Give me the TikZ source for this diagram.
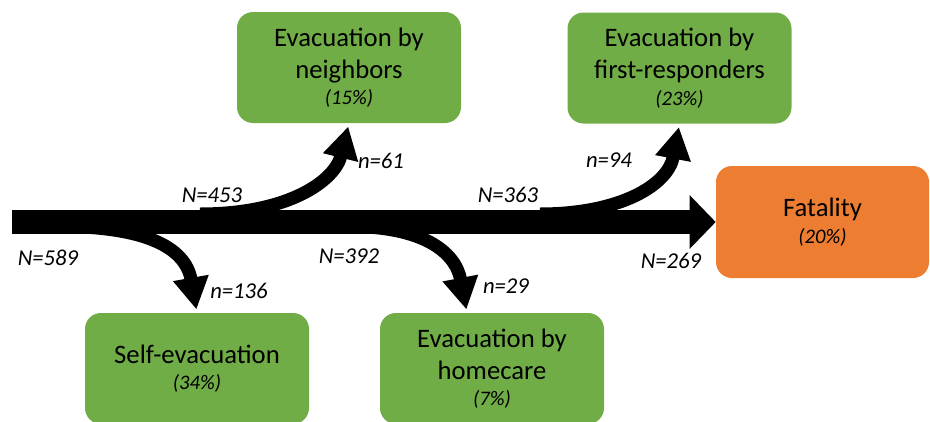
\documentclass[tikz,border=0pt]{standalone}
\usepackage{fontspec}
\setmainfont{Carlito}
\usetikzlibrary{arrows.meta}
\definecolor{boxgreen}{HTML}{70AD47}
\definecolor{boxorange}{HTML}{ED7D31}
\newcommand{\share}[1]{{\fontsize{15.5}{18}\selectfont\itshape #1}}

\begin{document}
\begin{tikzpicture}[x=0.75pt, y=-0.75pt,
                outcome/.style={rectangle, rounded corners=12pt, fill=boxgreen, align=center, inner sep=0pt,
                    minimum width=168pt, minimum height=83.25pt, font=\fontsize{20}{24}\selectfont},
                count/.style={font=\fontsize{17}{20}\selectfont\itshape},
                flow/.style={line width=18pt, -{Triangle[length=19.5pt, width=39pt]}},
                branch/.style={line width=9.75pt, shorten >=2.5pt, -{Triangle[length=24pt, width=25.5pt]}}]
                \useasboundingbox (0,0) rectangle (930,421);

                \node[outcome] (neigh) at (349,67.5) {Evacuation by\\neighbors\\[-4pt]\share{(15\%)}};
                \node[outcome] (first) at (679.5,68) {Evacuation by\\first-responders\\[-4pt]\share{(23\%)}};
                \node[outcome] (self) at (197,368.5) {Self-evacuation\\[-4pt]\share{(34\%)}};
                \node[outcome] (home) at (492,368.5) {Evacuation by\\homecare\\[-4pt]\share{(7\%)}};
                \node[outcome, fill=boxorange, minimum width=159.75pt, minimum height=84pt] (fatal) at (822.5,222) {Fatality\\[-4pt]\share{(20\%)}};

                \coordinate (start) at (12,222);
                \coordinate (toself) at (60,226.5);
                \coordinate (toneigh) at (200,214);
                \coordinate (tohome) at (350,226.5);
                \coordinate (tofirst) at (540,214);

                \draw[flow] (start) -- (fatal.west);
                \draw[branch] (toself) .. controls (140,226.5) and (185,245) .. (self.north);
                \draw[branch] (toneigh) .. controls (290,214) and (335,180) .. (neigh.south);
                \draw[branch] (tohome) .. controls (420,226.5) and (455,250) .. ([xshift=-18.75pt]home.north);
                \draw[branch] (tofirst) .. controls (620,214) and (668,185) .. (first.south);

                \node[count] (n589) at (48,258) {N=589};
                \node[count] (n453) at (212,195) {N=453};
                \node[count] (n136) at (239,291) {n=136};
                \node[count] (n61) at (381,161) {n=61};
                \node[count] (n392) at (349,256) {N=392};
                \node[count] (n29) at (506,286) {n=29};
                \node[count] (n363) at (508,195) {N=363};
                \node[count] (n94) at (609,160) {n=94};
                \node[count] (n269) at (671,261) {N=269};
            \end{tikzpicture}
\end{document}
